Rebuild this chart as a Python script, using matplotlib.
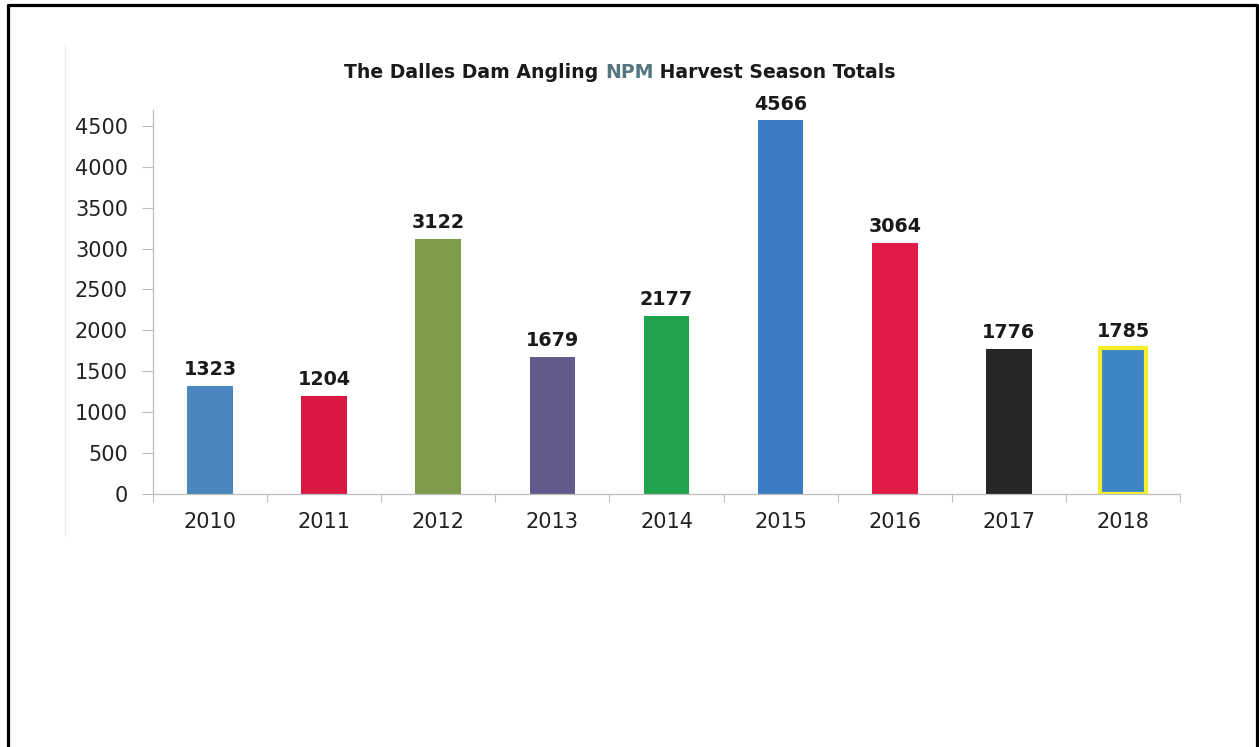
import matplotlib
matplotlib.use("Agg")
import matplotlib.pyplot as plt
from matplotlib.lines import Line2D

# ---------------------------------------------------------------------------
# Data
# ---------------------------------------------------------------------------

years  = ["2010", "2011", "2012", "2013", "2014", "2015", "2016", "2017", "2018"]
totals = [1323, 1204, 3122, 1679, 2177, 4566, 3064, 1776, 1785]
colors = ["#4a87c1", "#d91844", "#7d9c4a", "#645a8e", "#21a24c",
          "#3a7dc2", "#e01b48", "#262626", "#3d86c4"]
y_ticks = [0, 500, 1000, 1500, 2000, 2500, 3000, 3500, 4000, 4500]

title_parts  = ["The Dalles Dam Angling ", "NPM", " Harvest Season Totals"]
title_colors = ["#1a1a1a", "#557580", "#1a1a1a"]

# ---------------------------------------------------------------------------
# Figure
# ---------------------------------------------------------------------------

W, H = 1259, 747
fig = plt.figure(figsize=(W / 100, H / 100), dpi=100)
ax = fig.add_axes([153 / W, 1 - 494 / H, (1180 - 153) / W, (494 - 109.5) / H])

x = list(range(len(years)))
bars = ax.bar(x, totals, width=0.4, color=colors, edgecolor="none", zorder=2)

# 2018 bar has a yellow outline
bars[-1].set_edgecolor("#f2ee2e")
bars[-1].set_linewidth(3)

for xi, v in zip(x, totals):
    ax.annotate(f"{v}", (xi, v), xytext=(0, 5), textcoords="offset points",
                ha="center", va="bottom", fontsize=13.8, fontweight="bold",
                color="#1a1a1a")

ax.set_xlim(-0.5, len(years) - 0.5)
ax.set_ylim(0, 4700)
ax.set_yticks(y_ticks)
ax.set_yticklabels([str(t) for t in y_ticks])
ax.set_xticks(x)
ax.set_xticklabels(years)
ax.set_xticks([i - 0.5 for i in range(len(years) + 1)], minor=True)

ax.tick_params(axis="y", length=8, width=0.8, color="#bfbfbf",
               labelsize=15, labelcolor="#222222", pad=10)
ax.tick_params(axis="x", which="major", length=0, labelsize=15,
               labelcolor="#222222", pad=13)
ax.tick_params(axis="x", which="minor", length=6, width=0.8, color="#bfbfbf")

for side in ["top", "right"]:
    ax.spines[side].set_visible(False)
for side in ["left", "bottom"]:
    ax.spines[side].set_color("#bfbfbf")
    ax.spines[side].set_linewidth(0.9)

# title with "NPM" in a different colour
fig.canvas.draw()
renderer = fig.canvas.get_renderer()
pieces = []
for part, c in zip(title_parts, title_colors):
    t = fig.text(0, 1 - 72 / H, part, fontsize=13.6, fontweight="bold",
                 color=c, va="center", ha="left")
    pieces.append(t)
widths = [p.get_window_extent(renderer).width for p in pieces]
x0 = 620 - sum(widths) / 2
for p, w in zip(pieces, widths):
    p.set_x(x0 / W)
    x0 += w

# faint scan line at left of chart area
fig.add_artist(Line2D([65 / W, 65 / W], [1 - 45 / H, 1 - 535 / H],
                      color="#ececec", lw=1))

# black page border (left, top, right)
fig.add_artist(Line2D([8 / W, 8 / W, 1256.5 / W, 1256.5 / W],
                      [0, 1 - 5 / H, 1 - 5 / H, 0], color="black", lw=2.3))

fig.savefig("out.png", dpi=100)
